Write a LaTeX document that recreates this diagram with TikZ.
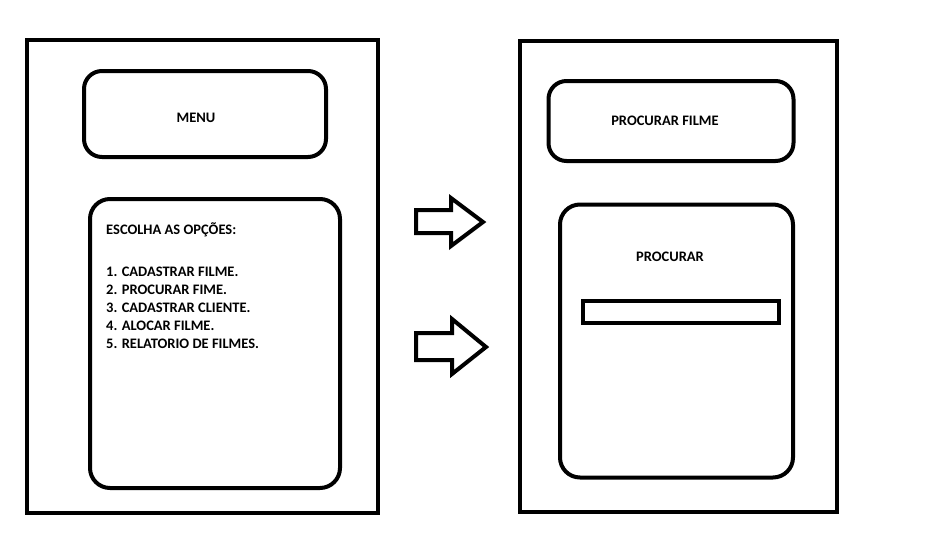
\documentclass[tikz,border=0pt]{standalone}
\usepackage{fontspec}
\setmainfont{Carlito}
\begin{document}
\begin{tikzpicture}[x=1pt,y=-1pt,
  frame/.style={draw=black,line width=4pt,inner sep=0pt,fill=white},
  rbox/.style={frame,rounded corners=18pt},
  lbl/.style={font=\fontsize{14.5}{18}\selectfont\bfseries,inner sep=0pt},
  blockarrow/.style={draw=black,line width=4pt,line join=miter,fill=white}]
\useasboundingbox (0,0) rectangle (948,552);
\fill[white] (0,0) rectangle (948,552);
% left screen
\node[frame,minimum width=351pt,minimum height=473pt] (left) at (202.5,276.5) {};
\node[rbox,minimum width=242pt,minimum height=86pt] (menu) at (205,114) {};
\node[lbl] (menut) at (196,118) {MENU};
\node[rbox,rounded corners=20pt,minimum width=250pt,minimum height=289pt] (opts) at (215,343.5) {};
\node[lbl,anchor=base west] (esc) at (106,234) {ESCOLHA AS OPÇÕES:};
\node[lbl,anchor=base west] (o1) at (106,276) {1. CADASTRAR FILME.};
\node[lbl,anchor=base west] (o2) at (106,294) {2. PROCURAR FIME.};
\node[lbl,anchor=base west] (o3) at (106,312) {3. CADASTRAR CLIENTE.};
\node[lbl,anchor=base west] (o4) at (106,330) {4. ALOCAR FILME.};
\node[lbl,anchor=base west] (o5) at (106,348) {5. RELATORIO DE FILMES.};
% arrows
\draw[blockarrow] (416,210) -- (451,210) -- (451,198) -- (483,222) -- (451,246) -- (451,233) -- (416,233) -- cycle;
\draw[blockarrow] (416,333) -- (452,333) -- (452,319) -- (486,347) -- (452,374) -- (452,360) -- (416,360) -- cycle;
% right screen
\node[frame,minimum width=317pt,minimum height=471pt] (right) at (678,276) {};
\node[rbox,minimum width=245pt,minimum height=80pt] (pf) at (671,121) {};
\node[lbl] (pft) at (665,121) {PROCURAR FILME};
\node[rbox,rounded corners=20pt,minimum width=233pt,minimum height=273pt] (proc) at (676.5,341) {};
\node[lbl] (proct) at (670,257) {PROCURAR};
\node[frame,minimum width=196pt,minimum height=22pt] (bar) at (680.5,312) {};
\end{tikzpicture}
\end{document}
